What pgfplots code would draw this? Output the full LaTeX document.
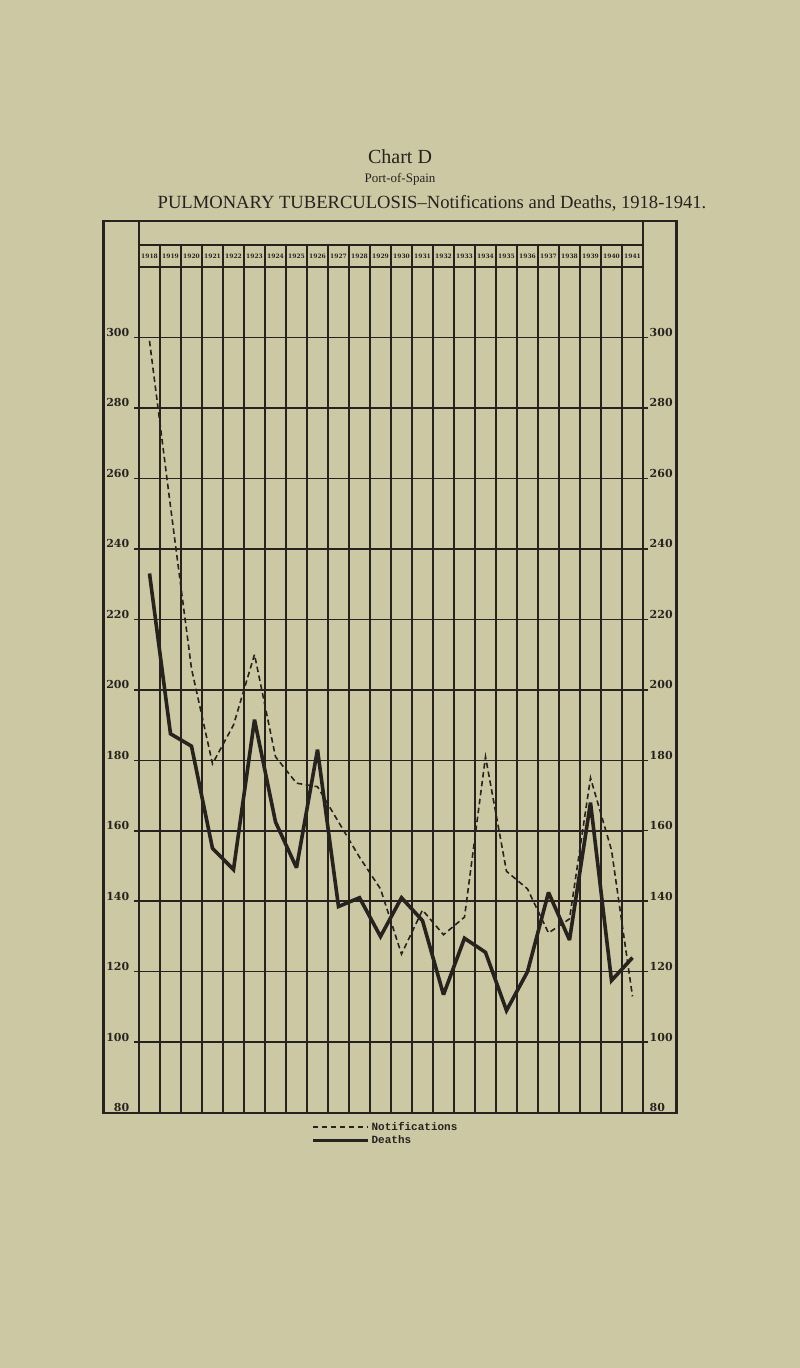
\documentclass[border=0pt]{standalone}
\usepackage{pgfplots}
\pgfplotsset{compat=1.18}
\usepackage{pgfplotstable}
\usepackage{fontspec}
\setmainfont{Liberation Serif}
\newfontfamily\dvs{DejaVu Serif}
\newfontfamily\mono{Liberation Mono}
\definecolor{paper}{RGB}{205,200,164}
\definecolor{ink}{RGB}{38,34,30}
\newcommand\ytf{\fontsize{11}{12}\selectfont\dvs\bfseries}
\newcommand\yrf{\fontsize{6}{7}\selectfont\dvs\bfseries}
\newcommand\legf{\fontsize{11}{12}\selectfont\mono\bfseries}

\pgfplotstableread{
year notif deaths
1918 299   233
1919 252   187.5
1920 206   184
1921 179   155
1922 190   149
1923 210   191.5
1924 181   162.5
1925 173.5 149.5
1926 172.5 183
1927 162.5 138.5
1928 152.5 141
1929 143.5 130
1930 125   141
1931 137.5 134.5
1932 130.5 113.5
1933 135.5 129.5
1934 181   125.5
1935 148.5 109
1936 143.5 120
1937 131   142.5
1938 135   129
1939 175   168
1940 154.5 117.5
1941 113   124
}\data

\begin{document}
\begin{tikzpicture}
\begin{scope}[x=1pt,y=-1pt]
\fill[paper] (0,0) rectangle (800,1368);
\node[font=\fontsize{20}{22}\selectfont, text=ink] at (400,157) {Chart D};
\node[font=\fontsize{13}{15}\selectfont, text=ink] at (400,179) {Port-of-Spain};
\node[font=\fontsize{18.6}{20}\selectfont, text=ink] at (432,203) {PULMONARY TUBERCULOSIS--Notifications and Deaths, 1918-1941.};
\draw[ink, line width=2.4pt] (103.5,221) rectangle (676.5,1113);
\draw[ink, line width=1.6pt] (139,221) -- (139,245) (643,221) -- (643,245);
\end{scope}

\begin{axis}[
  scale only axis, width=504pt, height=867.7pt,
  anchor=south west, at={(139pt,-1112.7pt)},
  xmin=1917.5, xmax=1941.5, ymin=80, ymax=326.19,
  axis line style={ink, line width=1.6pt},
  xtick={1918.5,1919.5,...,1940.5},
  xticklabels={},
  xmajorgrids,
  xtick style={draw=none},
  ytick={80,100,...,300},
  ytick pos=left,
  ymajorgrids,
  major grid style={ink, line width=1.5pt},
  extra y ticks={320}, extra y tick labels={},
  extra y tick style={grid=major, major tick length=0pt},
  tick align=outside, major tick length=5pt,
  ytick style={ink, line width=1.5pt},
  /pgf/number format/assume math mode=true,
  yticklabel style={font=\ytf, text=ink, anchor=south east, inner sep=0.5pt, xshift=-4pt},
  legend style={at={(0.335,-0.006)}, anchor=north west, draw=none, fill=none,
    font=\legf, text=ink, row sep=0pt, cells={anchor=west}},
  legend image code/.code={\draw[#1] (0pt,0pt) -- (55pt,0pt);},
]
\addplot[ink, line width=1.6pt, dash pattern=on 5.5pt off 3.5pt] table[x=year,y=notif]{\data};
\addlegendentry{Notifications}
\addplot[ink, line width=3.6pt, line join=miter, miter limit=3] table[x=year,y=deaths]{\data};
\addlegendentry{Deaths}
\pgfplotsinvokeforeach{1918,1919,...,1941}{\node[font=\yrf, text=ink, inner sep=0pt] at (axis cs:#1,323.1) {#1};}
\end{axis}

\begin{axis}[
  scale only axis, width=504pt, height=867.7pt,
  anchor=south west, at={(139pt,-1112.7pt)},
  xmin=1917.5, xmax=1941.5, ymin=80, ymax=326.19,
  hide x axis, axis y line*=right,
  axis line style={ink, line width=1.6pt},
  ytick={80,100,...,300},
  tick align=outside, major tick length=5pt,
  tick style={ink, line width=1.5pt},
  /pgf/number format/assume math mode=true,
  yticklabel style={font=\ytf, text=ink, anchor=south west, inner sep=0.5pt, xshift=1pt},
]
\addplot[draw=none] coordinates {(1930,200)};
\end{axis}
\end{tikzpicture}
\end{document}
